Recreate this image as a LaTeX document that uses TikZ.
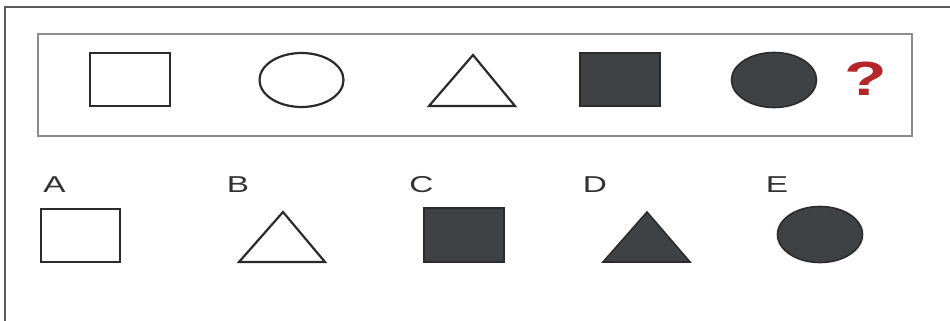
\documentclass[tikz,border=0pt]{standalone}
\usepackage{fontspec}
\setmainfont{Liberation Sans}
\begin{document}
\begin{tikzpicture}[x=1pt,y=-1pt,
  outl/.style={draw=strokegray,line width=2.2pt,line join=miter},
  solid/.style={draw=strokegray,fill=shapefill,line width=1.6pt},
  lbl/.style={anchor=base,inner sep=0pt,text=labelgray,font=\fontsize{23}{23}\selectfont}]
\definecolor{strokegray}{HTML}{2B2B2B}
\definecolor{shapefill}{HTML}{3E4244}
\definecolor{labelgray}{HTML}{333333}
\definecolor{framegray}{HTML}{5A5A5A}
\definecolor{boxgray}{HTML}{8C8C8C}
\definecolor{qred}{HTML}{B3272A}
\useasboundingbox[fill=white] (0,0) rectangle (950,321);
% outer frame (cropped: only top and left edges visible)
\draw[framegray,line width=1.6pt] (5,321) -- (5,7) -- (950,7);
% inner box
\draw[boxgray,line width=1.8pt] (38,34) rectangle (912,136);
% top row
\draw[outl] (90,53) rectangle (170,106);
\draw[outl] (301.5,80) ellipse [x radius=42,y radius=27];
\draw[outl] (429,106) -- (473,55) -- (515,106) -- cycle;
\draw[solid] (580,53) rectangle (660,106);
\draw[solid] (774,80) ellipse [x radius=42.5,y radius=27.5];
\node[inner sep=0pt,text=qred,font=\fontsize{48}{48}\bfseries\selectfont] (q) at (866,79) {\scalebox{1.45}[1]{?}};
% answer labels
\node[lbl] (la) at (54.5,192) {\scalebox{1.45}[1]{A}};
\node[lbl] (lb) at (238,192) {\scalebox{1.45}[1]{B}};
\node[lbl] (lc) at (421.5,192) {\scalebox{1.45}[1]{C}};
\node[lbl] (ld) at (595,192) {\scalebox{1.45}[1]{D}};
\node[lbl] (le) at (777,192) {\scalebox{1.45}[1]{E}};
% answer shapes
\draw[outl] (41,209) rectangle (120,262);
\draw[outl] (239,262) -- (283,212) -- (325,262) -- cycle;
\draw[solid] (424,208) rectangle (504,262);
\draw[solid] (603,262) -- (647,212) -- (690,262) -- cycle;
\draw[solid] (820,234.5) ellipse [x radius=42.5,y radius=28];
\end{tikzpicture}
\end{document}
